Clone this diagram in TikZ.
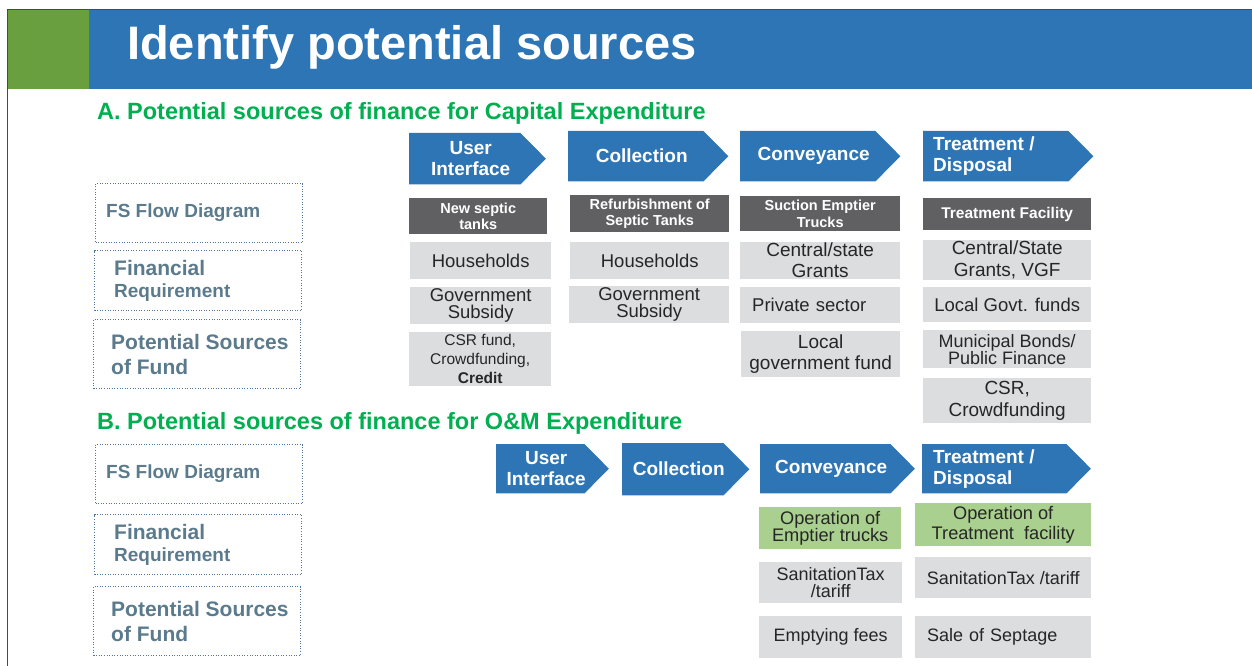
\documentclass[tikz,border=0pt]{standalone}
\usepackage{fontspec}
\setmainfont{Liberation Sans}
\usetikzlibrary{positioning}
\definecolor{stageblue}{HTML}{2E75B6}
\definecolor{leafgreen}{HTML}{6A9F40}
\definecolor{headgreen}{HTML}{00B050}
\definecolor{hdrgray}{HTML}{606062}
\definecolor{boxgray}{HTML}{DCDDDF}
\definecolor{opgreen}{HTML}{A9D08E}
\definecolor{slate}{HTML}{5B7B8D}
\definecolor{dotblue}{HTML}{4F76A0}
\definecolor{framecol}{HTML}{2C4F75}
\definecolor{inkgray}{HTML}{262626}
\tikzset{
  chevbody/.style={rectangle,inner sep=0pt,anchor=north west},
  chevtext/.style={text=white,font=\bfseries\fontsize{19}{21}\selectfont,align=center,inner sep=0pt},
  hdrbox/.style={rectangle,fill=hdrgray,text=white,font=\bfseries\fontsize{14.5}{16.5}\selectfont,align=center,inner sep=0pt,anchor=north west},
  srcbox/.style={rectangle,fill=boxgray,text=inkgray,font=\fontsize{18.5}{21}\selectfont,align=center,inner sep=0pt,anchor=north west},
  opbox/.style={srcbox,fill=opgreen},
  dotbox/.style={rectangle,draw=dotblue,line width=1pt,dash pattern=on 1pt off 1.6pt,inner sep=0pt,anchor=north west},
  sidetext/.style={text=slate,font=\bfseries\fontsize{21}{25}\selectfont,align=left,inner sep=0pt},
  heading/.style={text=headgreen,font=\bfseries\fontsize{23.5}{26}\selectfont,anchor=base west,inner sep=0pt},
  titletext/.style={text=white,font=\bfseries\fontsize{47}{50}\selectfont,anchor=base west,inner sep=0pt}
}
\newcommand{\stagechev}[5]{%
  \node[chevbody,minimum width={#4-#2},minimum height={#5-#3}] (#1) at (#2,#3) {};
  \fill[stageblue] (#1.north west) -- (#1.north east) -- ([xshift={(#5-#3)/2}]#1.east)
    -- (#1.south east) -- (#1.south west) -- cycle;
}

\begin{document}
\begin{tikzpicture}[x=1pt,y=-1pt]
\useasboundingbox (0,0) rectangle (1252,666);
\fill[leafgreen] (8,10) rectangle (89,89);
\fill[stageblue] (89,10) rectangle (1252,89);
\draw[framecol,line width=1.2pt] (7.5,666) -- (7.5,9.3) -- (1252,9.3);
\node[titletext] (title) at (127,60) {Identify potential sources};

\node[heading] (heada) at (97,120) {A. Potential sources of finance for Capital Expenditure};
\node[heading] (headb) at (97,429) {B. Potential sources of finance for O\&M Expenditure};

\node[dotbox,minimum width=207,minimum height=59] (aflow) at (95,183) {};
\node[sidetext,font=\bfseries\fontsize{19}{22}\selectfont,right=11pt of aflow.west] (aflowt) {FS Flow Diagram};
\node[dotbox,minimum width=207,minimum height=60] (afin) at (94,250) {};
\node[sidetext,font=\bfseries\fontsize{21}{22}\selectfont,right=20pt of afin.west] (afint) {Financial\\{\fontsize{19}{22}\selectfont Requirement}};
\node[dotbox,minimum width=207,minimum height=69] (asrc) at (93,319) {};
\node[sidetext,right=18pt of asrc.west] (asrct) {Potential Sources\\of Fund};

\node[dotbox,minimum width=207,minimum height=59] (bflow) at (95,444) {};
\node[sidetext,font=\bfseries\fontsize{19}{22}\selectfont,right=11pt of bflow.west] (bflowt) {FS Flow Diagram};
\node[dotbox,minimum width=207,minimum height=60] (bfin) at (94,514) {};
\node[sidetext,font=\bfseries\fontsize{21}{22}\selectfont,right=20pt of bfin.west] (bfint) {Financial\\{\fontsize{19}{22}\selectfont Requirement}};
\node[dotbox,minimum width=207,minimum height=69] (bsrc) at (93,586) {};
\node[sidetext,right=18pt of bsrc.west] (bsrct) {Potential Sources\\of Fund};

\stagechev{aui}{409}{133}{520}{184}
\node[chevtext] (auit) at ([xshift=6pt]aui.center) {User\\Interface};
\stagechev{acol}{568}{131}{703}{181}
\node[chevtext] (acolt) at ([xshift=6pt]acol.center) {Collection};
\stagechev{acon}{740}{131}{875}{181}
\node[chevtext] (acont) at ([xshift=6pt]acon.center) {Conveyance};
\stagechev{atrt}{923}{131}{1068}{181}
\node[chevtext,align=left,right=10pt of atrt.west] (atrtt) {Treatment /\\Disposal};

\node[hdrbox,minimum width=138,minimum height=36] (anew) at (409,198) {New septic\\tanks};
\node[hdrbox,minimum width=159,minimum height=37] (aref) at (570,195) {Refurbishment of\\Septic Tanks};
\node[hdrbox,minimum width=160,minimum height=35] (asuc) at (740,196) {Suction Emptier\\Trucks};
\node[hdrbox,font=\bfseries\fontsize{15.5}{17}\selectfont,minimum width=168,minimum height=32] (afac) at (923,198) {Treatment Facility};

\node[srcbox,minimum width=141,minimum height=37] (ahh1) at (410,242) {Households};
\node[srcbox,font=\fontsize{18.5}{16.5}\selectfont,minimum width=141,minimum height=37] (agov1) at (410,287) {Government\\Subsidy};
\node[srcbox,font=\fontsize{15.5}{19}\selectfont,minimum width=142,minimum height=54] (acsr1) at (409,332) {CSR fund,\\Crowdfunding,\\\textbf{Credit}};

\node[srcbox,minimum width=159,minimum height=37] (ahh2) at (570,242) {Households};
\node[srcbox,font=\fontsize{18.5}{16.5}\selectfont,minimum width=160,minimum height=37] (agov2) at (569,286) {Government\\Subsidy};

\node[srcbox,font=\fontsize{19}{21}\selectfont,minimum width=160,minimum height=37] (agrant3) at (740,242) {Central/state\\Grants};
\node[srcbox,align=left,text width=136,inner xsep=12pt,minimum height=36] (apriv3) at (740,287) {Private sector};
\node[srcbox,font=\fontsize{19}{21}\selectfont,minimum width=159,minimum height=46] (alocal3) at (741,331) {Local\\government fund};

\node[srcbox,font=\fontsize{19}{22}\selectfont,minimum width=168,minimum height=40] (agrant4) at (923,240) {Central/State\\Grants, VGF};
\node[srcbox,minimum width=168,minimum height=35] (alocal4) at (923,287) {Local Govt. funds};
\node[srcbox,font=\fontsize{18}{17}\selectfont,minimum width=168,minimum height=38] (abond4) at (923,330) {Municipal Bonds/\\Public Finance};
\node[srcbox,font=\fontsize{19}{22}\selectfont,minimum width=168,minimum height=45] (acsr4) at (923,378) {CSR,\\Crowdfunding};

\stagechev{bui}{496}{444}{584}{493}
\node[chevtext] (buit) at ([xshift=6pt]bui.center) {User\\Interface};
\stagechev{bcol}{622}{443}{723}{495}
\node[chevtext] (bcolt) at ([xshift=6pt]bcol.center) {Collection};
\stagechev{bcon}{760}{444}{890}{493}
\node[chevtext] (bcont) at ([xshift=6pt]bcon.center) {Conveyance};
\stagechev{btrt}{922}{444}{1066}{493}
\node[chevtext,align=left,right=11pt of btrt.west] (btrtt) {Treatment /\\Disposal};

\node[opbox,font=\fontsize{18.2}{17}\selectfont,minimum width=142,minimum height=42] (bop3) at (759,507) {Operation of\\Emptier trucks};
\node[opbox,font=\fontsize{18.2}{20}\selectfont,minimum width=176,minimum height=43] (bop4) at (915,503) {Operation of\\Treatment\ \ facility};
\node[srcbox,font=\fontsize{18}{17}\selectfont,minimum width=143,minimum height=41] (btax3) at (759,562) {SanitationTax\\/tariff};
\node[srcbox,font=\fontsize{18}{20}\selectfont,minimum width=176,minimum height=41] (btax4) at (915,557) {SanitationTax /tariff};
\node[srcbox,font=\fontsize{18}{20}\selectfont,minimum width=143,minimum height=42] (bfee3) at (759,616) {Emptying fees};
\node[srcbox,font=\fontsize{18}{20}\selectfont,align=left,text width=152,inner xsep=12pt,minimum height=42] (bsale4) at (915,616) {Sale of Septage};
\end{tikzpicture}
\end{document}
